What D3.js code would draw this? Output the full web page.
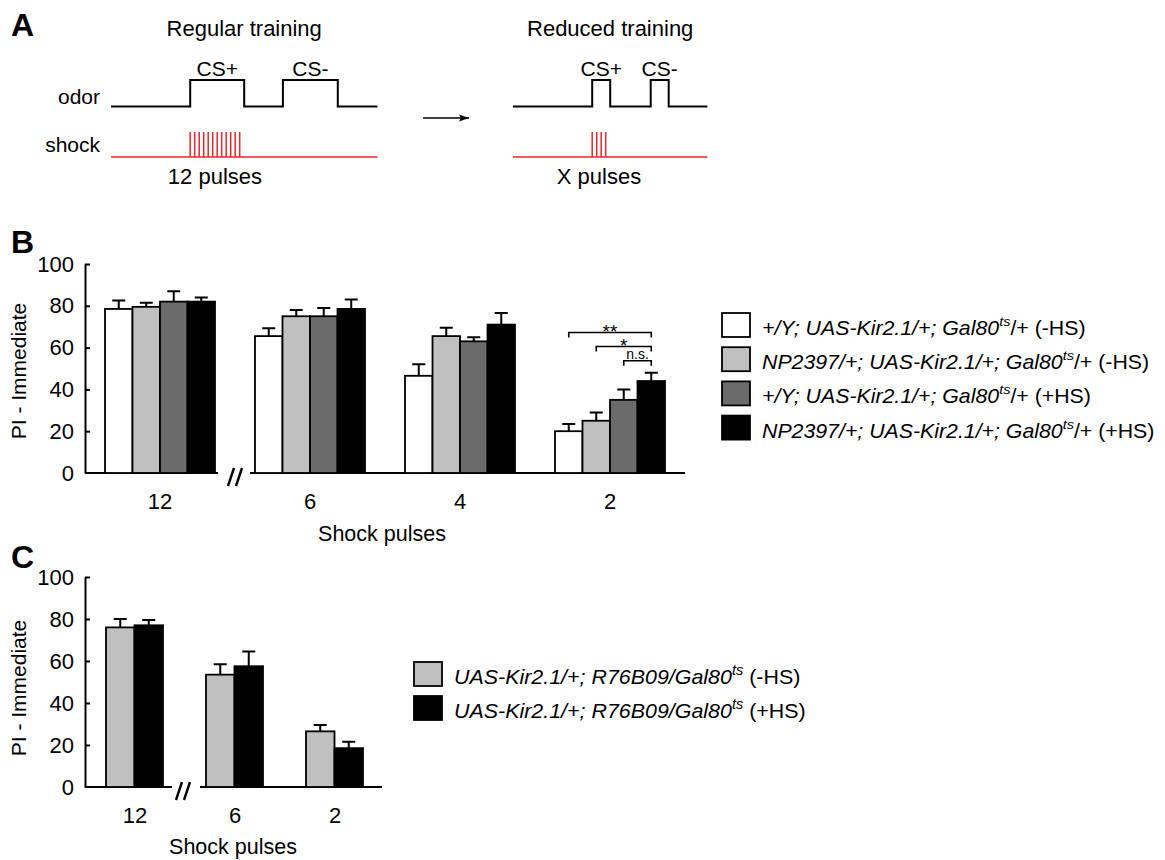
<!DOCTYPE html>
<html>
<head>
<meta charset="utf-8">
<script src="https://cdn.jsdelivr.net/npm/d3@7"></script>
<style>
  body { margin: 0; background: #fff; }
  svg { font-family: Arial, "Liberation Sans", sans-serif; }
</style>
</head>
<body>
<svg id="fig" width="1165" height="860"></svg>
<script>
// ---- data ----
// panel A: schematic timings (seconds) and shock pulse counts
var regularTimes = [0, 88, 148, 191, 252, 296];   // start, CS+ on, CS+ off, CS- on, CS- off, end
var reducedTimes = [0, 88, 108, 153, 173, 216];
var regularPulses = 12;
var reducedPulses = 4;
var pulseGap = 5;

// panel B
var groupsB = ["12", "6", "4", "2"];
var seriesB = ["ctrlNoHS", "npNoHS", "ctrlHS", "npHS"];
var meansB = [
  [78.5, 79.5, 82, 82],
  [65.5, 75, 75, 78.5],
  [46.5, 65.5, 63, 71],
  [20, 25, 35, 44]
];
var errB = [
  [4, 2, 5, 2],
  [3.8, 3, 4, 4.5],
  [5.5, 4, 2, 5.5],
  [3.5, 4, 5, 4]
];
// significance brackets in group "2": from series index to series index, height in PI units
var sigB = [
  {from: 0, to: 3, level: 67.2, label: "**"},
  {from: 1, to: 3, level: 60.5, label: "*"},
  {from: 2, to: 3, level: 53.7, label: "n.s."}
];

// panel C
var groupsC = ["12", "6", "2"];
var seriesC = ["noHS", "HS"];
var meansC = [
  [76, 77],
  [53.5, 57.5],
  [26.5, 18.5]
];
var errC = [
  [4, 2.5],
  [5, 7],
  [3, 3]
];

var yTicks = [0, 20, 40, 60, 80, 100];
var colorsB = ["#ffffff", "#c0c0c0", "#6b6b6b", "#000000"];
var colorsC = ["#c0c0c0", "#000000"];

var svg = d3.select("#fig");

// panel letters
[["A", 36], ["B", 253], ["C", 568]].forEach(function(p) {
  svg.append("text").attr("x", 11).attr("y", p[1]).text(p[0])
    .style("font-size", "32px").style("font-weight", "bold");
});

// ---------------- panel A ----------------
function drawProtocol(times, nPulses, x0, title, pulseLabel) {
  var t = d3.scaleLinear().domain([0, 1]).range([x0, x0 + 0.9]);
  var yLow = 106.5, yHigh = 80, yShock = 157, yPulse = 132;
  var g = svg.append("g");

  var pts = [
    [times[0], yLow], [times[1], yLow], [times[1], yHigh], [times[2], yHigh],
    [times[2], yLow], [times[3], yLow], [times[3], yHigh], [times[4], yHigh],
    [times[4], yLow], [times[5], yLow]
  ];
  g.append("path")
    .attr("d", d3.line().x(function(d){ return t(d[0]); }).y(function(d){ return d[1]; })(pts))
    .attr("fill", "none").attr("stroke", "#000").attr("stroke-width", 2);

  g.append("line")
    .attr("x1", t(times[0])).attr("x2", t(times[5]))
    .attr("y1", yShock).attr("y2", yShock)
    .attr("stroke", "#e8262a").attr("stroke-width", 1.5);

  g.selectAll(".pulse")
    .data(d3.range(nPulses))
    .enter().append("line")
    .attr("x1", function(i){ return t(times[1] + i * pulseGap); })
    .attr("x2", function(i){ return t(times[1] + i * pulseGap); })
    .attr("y1", yShock).attr("y2", yPulse)
    .attr("stroke", "#e8262a").attr("stroke-width", 1.5);

  g.append("text").attr("x", t((times[1] + times[2]) / 2)).attr("y", 76)
    .attr("text-anchor", "middle").style("font-size", "21px").text("CS+");
  g.append("text").attr("x", t((times[3] + times[4]) / 2)).attr("y", 76)
    .attr("text-anchor", "middle").style("font-size", "21px").text("CS-");
  g.append("text").attr("x", t(times[1] + (nPulses - 1) * pulseGap / 2)).attr("y", 184)
    .attr("text-anchor", "middle").style("font-size", "22px").text(pulseLabel);
  g.append("text").attr("x", t(times[5] / 2)).attr("y", 36)
    .attr("text-anchor", "middle").style("font-size", "22px").text(title);
  return t;
}

drawProtocol(regularTimes, regularPulses, 111, "Regular training", "12 pulses");
drawProtocol(reducedTimes, reducedPulses, 513, "Reduced training", "X pulses");

svg.append("text").attr("x", 100).attr("y", 104).attr("text-anchor", "end")
  .style("font-size", "21px").text("odor");
svg.append("text").attr("x", 100).attr("y", 152).attr("text-anchor", "end")
  .style("font-size", "21px").text("shock");

// arrow
svg.append("defs").append("marker")
  .attr("id", "arrowhead").attr("viewBox", "0 0 10 10")
  .attr("refX", 10).attr("refY", 5)
  .attr("markerWidth", 11).attr("markerHeight", 10)
  .attr("markerUnits", "userSpaceOnUse")
  .attr("orient", "auto")
  .append("path").attr("d", "M0,1.5 L10,5 L0,8.5 L2,5 Z").attr("fill", "#000");
svg.append("line").attr("x1", 423).attr("x2", 469).attr("y1", 118).attr("y2", 118)
  .attr("stroke", "#000").attr("stroke-width", 1.6).attr("marker-end", "url(#arrowhead)");

// ---------------- bar panels ----------------
function barPanel(opts) {
  var g = svg.append("g");
  var y = d3.scaleLinear().domain([0, 100]).range(opts.yRange);
  var x = d3.scaleBand().domain(opts.groups).range(opts.xRange);
  var xs = d3.scaleBand().domain(opts.series).range(opts.inner);

  // y axis
  var yAxis = g.append("g").attr("transform", "translate(" + opts.xRange[0] + ",0)")
    .call(d3.axisLeft(y).tickValues(opts.ticks).tickSizeInner(-5).tickSizeOuter(0).tickPadding(11));
  yAxis.select(".domain").attr("stroke-width", 2);
  yAxis.selectAll(".tick line").attr("stroke-width", 2);
  yAxis.selectAll(".tick").filter(function(d){ return d === 0; }).select("line").remove();
  yAxis.selectAll("text").style("font-size", "22px").style("font-family", "Arial, 'Liberation Sans', sans-serif");

  // x baseline, broken into segments
  opts.segments.forEach(function(s) {
    g.append("line").attr("x1", s[0]).attr("x2", s[1])
      .attr("y1", y(0)).attr("y2", y(0))
      .attr("stroke", "#000").attr("stroke-width", 2);
  });
  // break mark
  [0, 8].forEach(function(dx) {
    g.append("line")
      .attr("x1", opts.breakX + dx).attr("x2", opts.breakX + dx + 6)
      .attr("y1", y(0) + 13).attr("y2", y(0) - 5)
      .attr("stroke", "#000").attr("stroke-width", 2.4);
  });

  // bars
  opts.groups.forEach(function(grp, gi) {
    var gg = g.append("g").attr("transform", "translate(" + x(grp) + ",0)");
    gg.selectAll(".err")
      .data(opts.series)
      .enter().append("path")
      .attr("d", function(s, si) {
        var cx = xs(s) + xs.bandwidth() / 2;
        var top = y(opts.means[gi][si] + opts.err[gi][si]);
        return "M" + cx + "," + y(opts.means[gi][si]) + "V" + top + "M" + (cx - 6.5) + "," + top + "H" + (cx + 6.5);
      })
      .attr("stroke", "#000").attr("stroke-width", 2).attr("fill", "none");
    gg.selectAll(".bar")
      .data(opts.series)
      .enter().append("rect")
      .attr("x", function(s){ return xs(s); })
      .attr("width", xs.bandwidth())
      .attr("y", function(s, si){ return y(opts.means[gi][si]); })
      .attr("height", function(s, si){ return y(0) - y(opts.means[gi][si]); })
      .attr("fill", function(s, si){ return opts.colors[si]; })
      .attr("stroke", "#000").attr("stroke-width", 1.8);

    g.append("text").attr("x", x(grp) + x.bandwidth() / 2).attr("y", opts.tickLabelY)
      .attr("text-anchor", "middle").style("font-size", "22px").text(grp);
  });

  // y label
  g.append("text")
    .attr("transform", "translate(26," + opts.yLabelMid + ") rotate(-90)")
    .attr("text-anchor", "middle").style("font-size", "21px").text("PI - Immediate");
  // x title
  g.append("text").attr("x", opts.xTitleX).attr("y", opts.xTitleY)
    .attr("text-anchor", "middle").style("font-size", "21.5px").text("Shock pulses");

  return {x: x, xs: xs, y: y, g: g};
}

var pB = barPanel({
  groups: groupsB, series: seriesB, means: meansB, err: errB, colors: colorsB,
  ticks: yTicks, yRange: [473, 264], xRange: [85, 685], inner: [20, 130],
  segments: [[85, 218], [250, 685]], breakX: 228,
  tickLabelY: 509, xTitleX: 382, xTitleY: 541, yLabelMid: 371
});

// significance brackets in the "2" group
sigB.forEach(function(s) {
  var gx = pB.x("2");
  var x1 = gx + pB.xs(seriesB[s.from]) + pB.xs.bandwidth() / 2;
  var x2 = gx + pB.xs(seriesB[s.to]) + pB.xs.bandwidth() / 2;
  var yy = pB.y(s.level);
  pB.g.append("path")
    .attr("d", "M" + x1 + "," + (yy + 5) + "V" + yy + "H" + x2 + "V" + (yy + 5))
    .attr("fill", "none").attr("stroke", "#000").attr("stroke-width", 1.6);
  pB.g.append("text").attr("x", (x1 + x2) / 2).attr("y", s.label === "n.s." ? yy - 2 : yy + 5)
    .attr("text-anchor", "middle")
    .style("font-size", s.label === "n.s." ? "14px" : "19px")
    .text(s.label);
});

barPanel({
  groups: groupsC, series: seriesC, means: meansC, err: errC, colors: colorsC,
  ticks: yTicks, yRange: [787, 577], xRange: [85, 385], inner: [21, 78],
  segments: [[85, 172], [200, 382]], breakX: 176,
  tickLabelY: 823, xTitleX: 233, xTitleY: 854, yLabelMid: 688
});

// ---------------- legends ----------------
function legend(x0, y0, step, colors, rows, fontSize, sx) {
  rows.forEach(function(r, i) {
    var yy = y0 + i * step;
    svg.append("rect").attr("x", x0).attr("y", yy).attr("width", 28).attr("height", 24)
      .attr("fill", colors[i]).attr("stroke", "#000").attr("stroke-width", 1.8);
    var t = svg.append("text")
      .attr("transform", "translate(" + (x0 + 40) + "," + (yy + 22) + ") scale(" + sx + ",1)")
      .style("font-size", fontSize + "px");
    t.append("tspan").style("font-style", "italic").text(r[0]);
    t.append("tspan").style("font-style", "italic").style("font-size", (fontSize * 0.68) + "px")
      .attr("dy", -9).text("ts");
    t.append("tspan").attr("dy", 9).text(r[1]);
  });
}

legend(722, 313, 34.2, colorsB, [
  ["+/Y; UAS-Kir2.1/+; Gal80", "/+ (-HS)"],
  ["NP2397/+; UAS-Kir2.1/+; Gal80", "/+ (-HS)"],
  ["+/Y; UAS-Kir2.1/+; Gal80", "/+ (+HS)"],
  ["NP2397/+; UAS-Kir2.1/+; Gal80", "/+ (+HS)"]
], 20, 1.065);

legend(414, 662, 34, colorsC, [
  ["UAS-Kir2.1/+; R76B09/Gal80", " (-HS)"],
  ["UAS-Kir2.1/+; R76B09/Gal80", " (+HS)"]
], 21, 1.02);
</script>
</body>
</html>
